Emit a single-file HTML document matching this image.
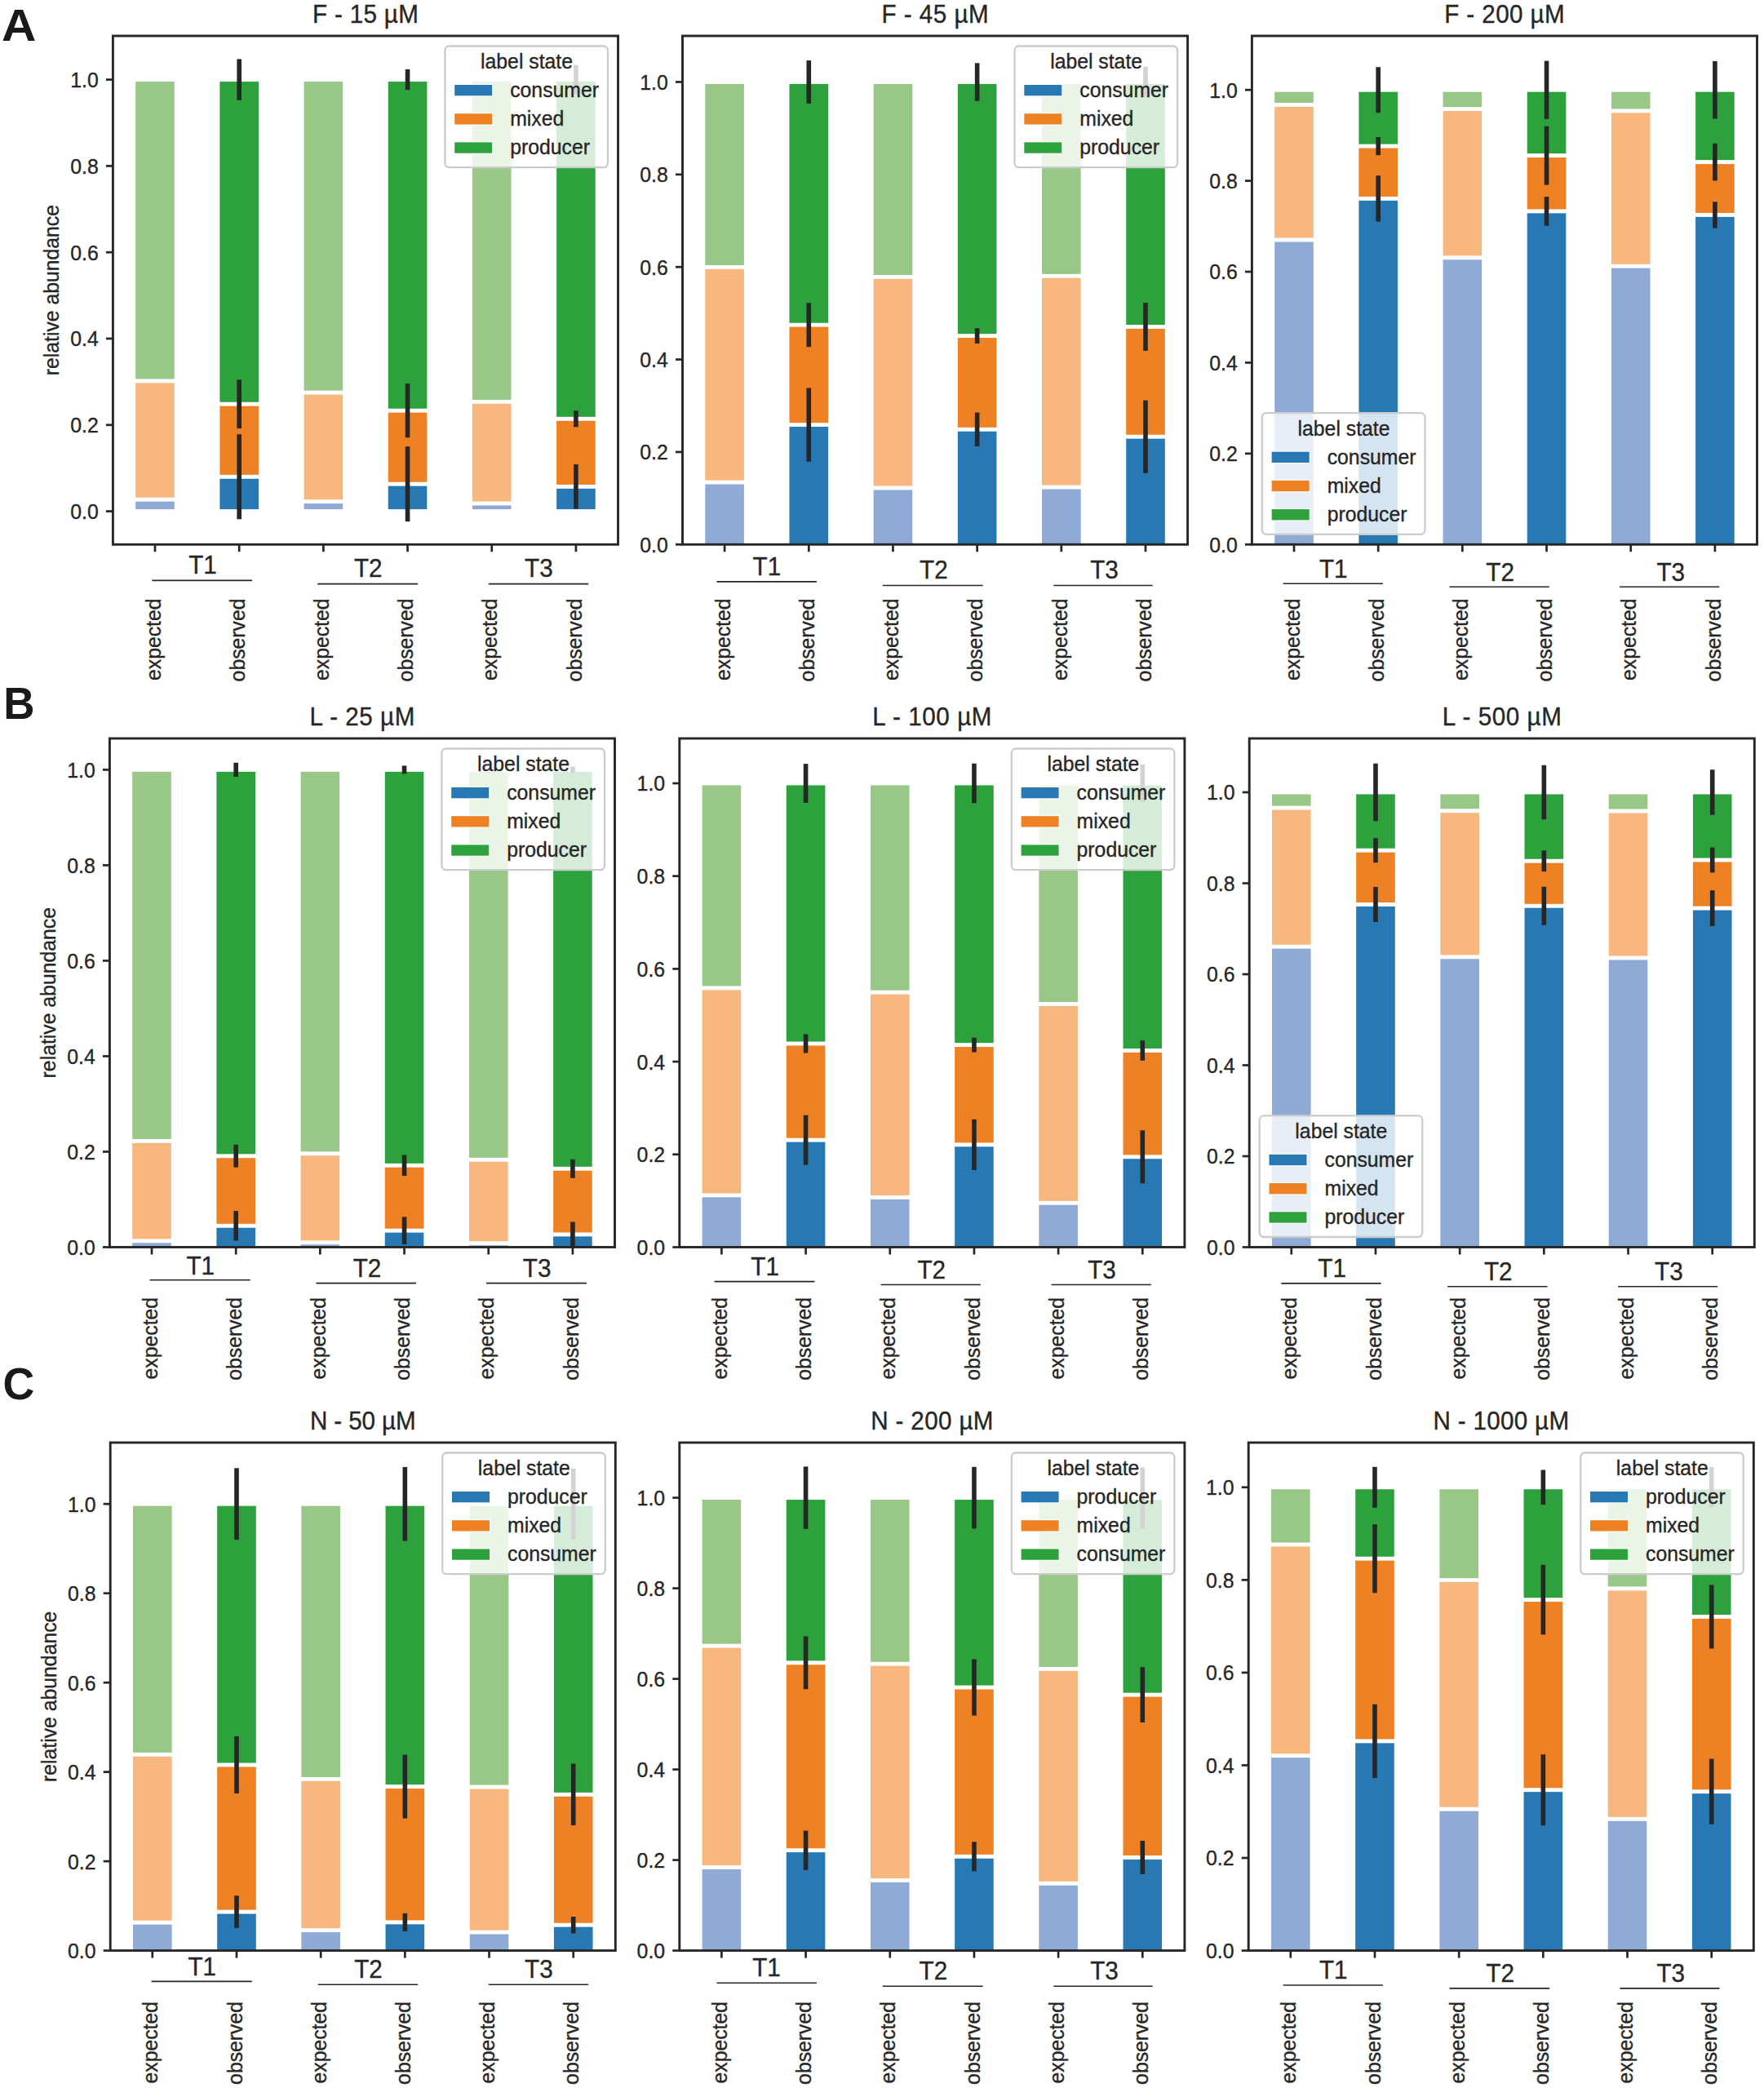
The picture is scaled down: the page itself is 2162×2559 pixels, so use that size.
<!DOCTYPE html>
<html lang="en">
<head>
<meta charset="utf-8">
<title>Relative abundance of label states</title>
<style>
html,body{margin:0;padding:0;background:#fff;}
svg{display:block;}
text{font-family:"Liberation Sans",Arial,Helvetica,sans-serif;fill:#262626;stroke:#262626;stroke-width:0.35px;}
.pl{font-weight:bold;fill:#1a1a1a;stroke:none;}
</style>
</head>
<body>
<svg width="2162" height="2559" viewBox="0 0 2162 2559">
<rect x="0" y="0" width="2162" height="2559" fill="#fff"/>
<g>
<rect x="166.19" y="614.65" width="47.6" height="9.5" fill="#8eaad5"/>
<rect x="166.19" y="469.35" width="47.6" height="140.4" fill="#f7b77f"/>
<rect x="166.19" y="100.05" width="47.6" height="364.4" fill="#98c787"/>
<rect x="269.38" y="586.75" width="47.6" height="37.4" fill="#2878b4"/>
<rect x="269.38" y="497.65" width="47.6" height="84.2" fill="#ee8124"/>
<rect x="269.38" y="100.05" width="47.6" height="392.7" fill="#2da23c"/>
<rect x="372.56" y="617.15" width="47.6" height="7" fill="#8eaad5"/>
<rect x="372.56" y="483.55" width="47.6" height="128.7" fill="#f7b77f"/>
<rect x="372.56" y="100.05" width="47.6" height="378.6" fill="#98c787"/>
<rect x="475.74" y="595.65" width="47.6" height="28.5" fill="#2878b4"/>
<rect x="475.74" y="505.65" width="47.6" height="85.1" fill="#ee8124"/>
<rect x="475.74" y="100.05" width="47.6" height="400.7" fill="#2da23c"/>
<rect x="578.93" y="619.45" width="47.6" height="4.7" fill="#8eaad5"/>
<rect x="578.93" y="494.85" width="47.6" height="119.7" fill="#f7b77f"/>
<rect x="578.93" y="100.05" width="47.6" height="389.9" fill="#98c787"/>
<rect x="682.11" y="598.85" width="47.6" height="25.3" fill="#2878b4"/>
<rect x="682.11" y="515.75" width="47.6" height="78.2" fill="#ee8124"/>
<rect x="682.11" y="100.05" width="47.6" height="410.8" fill="#2da23c"/>
<rect x="290.38" y="532.3" width="5.6" height="104" fill="#262626"/>
<rect x="290.38" y="465.3" width="5.6" height="59.8" fill="#262626"/>
<rect x="290.38" y="72.4" width="5.6" height="50.4" fill="#262626"/>
<rect x="496.74" y="547.2" width="5.6" height="92" fill="#262626"/>
<rect x="496.74" y="470.1" width="5.6" height="66.2" fill="#262626"/>
<rect x="496.74" y="85" width="5.6" height="25.2" fill="#262626"/>
<rect x="703.11" y="569.1" width="5.6" height="54.6" fill="#262626"/>
<rect x="703.11" y="503.3" width="5.6" height="20" fill="#262626"/>
<rect x="703.11" y="79.6" width="5.6" height="36" fill="#262626"/>
<rect x="545.4" y="56.5" width="199.6" height="148.6" rx="5.2" fill="#fff" fill-opacity="0.8" stroke="#cccccc" stroke-width="2.3"/>
<text text-anchor="middle" font-size="25.5" transform="translate(645.5 83.8) scale(0.972 1)">label state</text>
<rect x="557.2" y="104" width="46" height="13.3" fill="#2878b4" stroke="#fff" stroke-width="2.2" paint-order="stroke"/>
<text text-anchor="start" font-size="25.5" transform="translate(625.2 119.3) scale(0.972 1)">consumer</text>
<rect x="557.2" y="139.2" width="46" height="13.3" fill="#ee8124" stroke="#fff" stroke-width="2.2" paint-order="stroke"/>
<text text-anchor="start" font-size="25.5" transform="translate(625.2 154.35) scale(0.972 1)">mixed</text>
<rect x="557.2" y="174.4" width="46" height="13.3" fill="#2da23c" stroke="#fff" stroke-width="2.2" paint-order="stroke"/>
<text text-anchor="start" font-size="25.5" transform="translate(625.2 189.4) scale(0.972 1)">producer</text>
<rect x="138.4" y="44" width="619.1" height="623.3" fill="none" stroke="#262626" stroke-width="2.9"/>
<line x1="129.9" y1="626.6" x2="138.4" y2="626.6" stroke="#262626" stroke-width="2.7"/>
<text text-anchor="end" font-size="26.7" transform="translate(120.7 636.05) scale(0.93 1)">0.0</text>
<line x1="129.9" y1="520.8" x2="138.4" y2="520.8" stroke="#262626" stroke-width="2.7"/>
<text text-anchor="end" font-size="26.7" transform="translate(120.7 530.25) scale(0.93 1)">0.2</text>
<line x1="129.9" y1="415" x2="138.4" y2="415" stroke="#262626" stroke-width="2.7"/>
<text text-anchor="end" font-size="26.7" transform="translate(120.7 424.45) scale(0.93 1)">0.4</text>
<line x1="129.9" y1="309.2" x2="138.4" y2="309.2" stroke="#262626" stroke-width="2.7"/>
<text text-anchor="end" font-size="26.7" transform="translate(120.7 318.65) scale(0.93 1)">0.6</text>
<line x1="129.9" y1="203.4" x2="138.4" y2="203.4" stroke="#262626" stroke-width="2.7"/>
<text text-anchor="end" font-size="26.7" transform="translate(120.7 212.85) scale(0.93 1)">0.8</text>
<line x1="129.9" y1="97.6" x2="138.4" y2="97.6" stroke="#262626" stroke-width="2.7"/>
<text text-anchor="end" font-size="26.7" transform="translate(120.7 107.05) scale(0.93 1)">1.0</text>
<line x1="189.99" y1="667.3" x2="189.99" y2="676.3" stroke="#262626" stroke-width="2.7"/>
<text text-anchor="end" font-size="25.5" transform="translate(196.69 733.5) rotate(-90) scale(0.972 1)">expected</text>
<line x1="293.18" y1="667.3" x2="293.18" y2="676.3" stroke="#262626" stroke-width="2.7"/>
<text text-anchor="end" font-size="25.5" transform="translate(299.88 733.5) rotate(-90) scale(0.972 1)">observed</text>
<line x1="396.36" y1="667.3" x2="396.36" y2="676.3" stroke="#262626" stroke-width="2.7"/>
<text text-anchor="end" font-size="25.5" transform="translate(403.06 733.5) rotate(-90) scale(0.972 1)">expected</text>
<line x1="499.54" y1="667.3" x2="499.54" y2="676.3" stroke="#262626" stroke-width="2.7"/>
<text text-anchor="end" font-size="25.5" transform="translate(506.24 733.5) rotate(-90) scale(0.972 1)">observed</text>
<line x1="602.73" y1="667.3" x2="602.73" y2="676.3" stroke="#262626" stroke-width="2.7"/>
<text text-anchor="end" font-size="25.5" transform="translate(609.43 733.5) rotate(-90) scale(0.972 1)">expected</text>
<line x1="705.91" y1="667.3" x2="705.91" y2="676.3" stroke="#262626" stroke-width="2.7"/>
<text text-anchor="end" font-size="25.5" transform="translate(712.61 733.5) rotate(-90) scale(0.972 1)">observed</text>
<text text-anchor="start" font-size="31.4" transform="translate(231.2 703.4) scale(0.945 1)">T1</text>
<line x1="186.3" y1="711.4" x2="309.1" y2="711.4" stroke="#262626" stroke-width="1.6"/>
<text text-anchor="start" font-size="31.4" transform="translate(433.9 707.3) scale(0.945 1)">T2</text>
<line x1="389.2" y1="715.6" x2="512.2" y2="715.6" stroke="#262626" stroke-width="1.6"/>
<text text-anchor="start" font-size="31.4" transform="translate(643.1 707.3) scale(0.945 1)">T3</text>
<line x1="598.9" y1="715.6" x2="721.1" y2="715.6" stroke="#262626" stroke-width="1.6"/>
<text text-anchor="middle" font-size="30.8" transform="translate(447.95 27.6) scale(0.961 1)" textLength="134.96" lengthAdjust="spacing">F - 15 µM</text>
<text text-anchor="middle" font-size="25.5" transform="translate(71.8 355.65) rotate(-90) scale(0.972 1)">relative abundance</text>
</g>
<g>
<rect x="864.29" y="593.55" width="47.6" height="73.75" fill="#8eaad5"/>
<rect x="864.29" y="329.85" width="47.6" height="258.8" fill="#f7b77f"/>
<rect x="864.29" y="102.95" width="47.6" height="222" fill="#98c787"/>
<rect x="967.48" y="523.05" width="47.6" height="144.25" fill="#2878b4"/>
<rect x="967.48" y="400.65" width="47.6" height="117.5" fill="#ee8124"/>
<rect x="967.48" y="102.95" width="47.6" height="292.8" fill="#2da23c"/>
<rect x="1070.66" y="600.45" width="47.6" height="66.85" fill="#8eaad5"/>
<rect x="1070.66" y="341.85" width="47.6" height="253.7" fill="#f7b77f"/>
<rect x="1070.66" y="102.95" width="47.6" height="234" fill="#98c787"/>
<rect x="1173.84" y="528.75" width="47.6" height="138.55" fill="#2878b4"/>
<rect x="1173.84" y="414.05" width="47.6" height="109.8" fill="#ee8124"/>
<rect x="1173.84" y="102.95" width="47.6" height="306.2" fill="#2da23c"/>
<rect x="1277.03" y="599.55" width="47.6" height="67.75" fill="#8eaad5"/>
<rect x="1277.03" y="340.75" width="47.6" height="253.9" fill="#f7b77f"/>
<rect x="1277.03" y="102.95" width="47.6" height="232.9" fill="#98c787"/>
<rect x="1380.21" y="537.65" width="47.6" height="129.65" fill="#2878b4"/>
<rect x="1380.21" y="402.95" width="47.6" height="129.8" fill="#ee8124"/>
<rect x="1380.21" y="102.95" width="47.6" height="295.1" fill="#2da23c"/>
<rect x="988.48" y="475.5" width="5.6" height="90.2" fill="#262626"/>
<rect x="988.48" y="371.2" width="5.6" height="54" fill="#262626"/>
<rect x="988.48" y="74.1" width="5.6" height="52.8" fill="#262626"/>
<rect x="1194.84" y="505.6" width="5.6" height="41.4" fill="#262626"/>
<rect x="1194.84" y="402.2" width="5.6" height="18.8" fill="#262626"/>
<rect x="1194.84" y="77.3" width="5.6" height="46.4" fill="#262626"/>
<rect x="1401.21" y="490.6" width="5.6" height="89.2" fill="#262626"/>
<rect x="1401.21" y="371.1" width="5.6" height="58.8" fill="#262626"/>
<rect x="1401.21" y="81.6" width="5.6" height="37.8" fill="#262626"/>
<rect x="1243.5" y="56.5" width="199.6" height="148.6" rx="5.2" fill="#fff" fill-opacity="0.8" stroke="#cccccc" stroke-width="2.3"/>
<text text-anchor="middle" font-size="25.5" transform="translate(1343.6 83.8) scale(0.972 1)">label state</text>
<rect x="1255.3" y="104" width="46" height="13.3" fill="#2878b4" stroke="#fff" stroke-width="2.2" paint-order="stroke"/>
<text text-anchor="start" font-size="25.5" transform="translate(1323.3 119.3) scale(0.972 1)">consumer</text>
<rect x="1255.3" y="139.2" width="46" height="13.3" fill="#ee8124" stroke="#fff" stroke-width="2.2" paint-order="stroke"/>
<text text-anchor="start" font-size="25.5" transform="translate(1323.3 154.35) scale(0.972 1)">mixed</text>
<rect x="1255.3" y="174.4" width="46" height="13.3" fill="#2da23c" stroke="#fff" stroke-width="2.2" paint-order="stroke"/>
<text text-anchor="start" font-size="25.5" transform="translate(1323.3 189.4) scale(0.972 1)">producer</text>
<rect x="836.5" y="44" width="619.1" height="623.3" fill="none" stroke="#262626" stroke-width="2.9"/>
<line x1="828" y1="667.3" x2="836.5" y2="667.3" stroke="#262626" stroke-width="2.7"/>
<text text-anchor="end" font-size="26.7" transform="translate(818.8 676.75) scale(0.93 1)">0.0</text>
<line x1="828" y1="553.94" x2="836.5" y2="553.94" stroke="#262626" stroke-width="2.7"/>
<text text-anchor="end" font-size="26.7" transform="translate(818.8 563.39) scale(0.93 1)">0.2</text>
<line x1="828" y1="440.58" x2="836.5" y2="440.58" stroke="#262626" stroke-width="2.7"/>
<text text-anchor="end" font-size="26.7" transform="translate(818.8 450.03) scale(0.93 1)">0.4</text>
<line x1="828" y1="327.22" x2="836.5" y2="327.22" stroke="#262626" stroke-width="2.7"/>
<text text-anchor="end" font-size="26.7" transform="translate(818.8 336.67) scale(0.93 1)">0.6</text>
<line x1="828" y1="213.86" x2="836.5" y2="213.86" stroke="#262626" stroke-width="2.7"/>
<text text-anchor="end" font-size="26.7" transform="translate(818.8 223.31) scale(0.93 1)">0.8</text>
<line x1="828" y1="100.5" x2="836.5" y2="100.5" stroke="#262626" stroke-width="2.7"/>
<text text-anchor="end" font-size="26.7" transform="translate(818.8 109.95) scale(0.93 1)">1.0</text>
<line x1="888.09" y1="667.3" x2="888.09" y2="676.3" stroke="#262626" stroke-width="2.7"/>
<text text-anchor="end" font-size="25.5" transform="translate(894.79 733.5) rotate(-90) scale(0.972 1)">expected</text>
<line x1="991.27" y1="667.3" x2="991.27" y2="676.3" stroke="#262626" stroke-width="2.7"/>
<text text-anchor="end" font-size="25.5" transform="translate(997.98 733.5) rotate(-90) scale(0.972 1)">observed</text>
<line x1="1094.46" y1="667.3" x2="1094.46" y2="676.3" stroke="#262626" stroke-width="2.7"/>
<text text-anchor="end" font-size="25.5" transform="translate(1101.16 733.5) rotate(-90) scale(0.972 1)">expected</text>
<line x1="1197.64" y1="667.3" x2="1197.64" y2="676.3" stroke="#262626" stroke-width="2.7"/>
<text text-anchor="end" font-size="25.5" transform="translate(1204.34 733.5) rotate(-90) scale(0.972 1)">observed</text>
<line x1="1300.83" y1="667.3" x2="1300.83" y2="676.3" stroke="#262626" stroke-width="2.7"/>
<text text-anchor="end" font-size="25.5" transform="translate(1307.53 733.5) rotate(-90) scale(0.972 1)">expected</text>
<line x1="1404.01" y1="667.3" x2="1404.01" y2="676.3" stroke="#262626" stroke-width="2.7"/>
<text text-anchor="end" font-size="25.5" transform="translate(1410.71 733.5) rotate(-90) scale(0.972 1)">observed</text>
<text text-anchor="start" font-size="31.4" transform="translate(922.6 704.9) scale(0.945 1)">T1</text>
<line x1="878.4" y1="712.9" x2="1000.9" y2="712.9" stroke="#262626" stroke-width="1.6"/>
<text text-anchor="start" font-size="31.4" transform="translate(1127.1 708.8) scale(0.945 1)">T2</text>
<line x1="1081.8" y1="717.5" x2="1204.6" y2="717.5" stroke="#262626" stroke-width="1.6"/>
<text text-anchor="start" font-size="31.4" transform="translate(1336.2 708.8) scale(0.945 1)">T3</text>
<line x1="1291.3" y1="717.5" x2="1412.6" y2="717.5" stroke="#262626" stroke-width="1.6"/>
<text text-anchor="middle" font-size="30.8" transform="translate(1146.05 27.6) scale(0.961 1)" textLength="136.52" lengthAdjust="spacing">F - 45 µM</text>
</g>
<g>
<rect x="1562.19" y="296.45" width="47.6" height="370.85" fill="#8eaad5"/>
<rect x="1562.19" y="130.95" width="47.6" height="160.6" fill="#f7b77f"/>
<rect x="1562.19" y="112.65" width="47.6" height="13.4" fill="#98c787"/>
<rect x="1665.38" y="245.85" width="47.6" height="421.45" fill="#2878b4"/>
<rect x="1665.38" y="181.55" width="47.6" height="59.4" fill="#ee8124"/>
<rect x="1665.38" y="112.65" width="47.6" height="64" fill="#2da23c"/>
<rect x="1768.56" y="318.25" width="47.6" height="349.05" fill="#8eaad5"/>
<rect x="1768.56" y="136.05" width="47.6" height="177.3" fill="#f7b77f"/>
<rect x="1768.56" y="112.65" width="47.6" height="18.5" fill="#98c787"/>
<rect x="1871.74" y="261.35" width="47.6" height="405.95" fill="#2878b4"/>
<rect x="1871.74" y="193.05" width="47.6" height="63.4" fill="#ee8124"/>
<rect x="1871.74" y="112.65" width="47.6" height="75.5" fill="#2da23c"/>
<rect x="1974.93" y="328.65" width="47.6" height="338.65" fill="#8eaad5"/>
<rect x="1974.93" y="138.35" width="47.6" height="185.4" fill="#f7b77f"/>
<rect x="1974.93" y="112.65" width="47.6" height="20.8" fill="#98c787"/>
<rect x="2078.11" y="265.85" width="47.6" height="401.45" fill="#2878b4"/>
<rect x="2078.11" y="201.05" width="47.6" height="59.9" fill="#ee8124"/>
<rect x="2078.11" y="112.65" width="47.6" height="83.5" fill="#2da23c"/>
<rect x="1686.38" y="215.2" width="5.6" height="56.4" fill="#262626"/>
<rect x="1686.38" y="168" width="5.6" height="22.2" fill="#262626"/>
<rect x="1686.38" y="82.2" width="5.6" height="56" fill="#262626"/>
<rect x="1892.74" y="241.1" width="5.6" height="35.6" fill="#262626"/>
<rect x="1892.74" y="154.6" width="5.6" height="72" fill="#262626"/>
<rect x="1892.74" y="74.6" width="5.6" height="71.2" fill="#262626"/>
<rect x="2099.11" y="247.3" width="5.6" height="32.2" fill="#262626"/>
<rect x="2099.11" y="175.8" width="5.6" height="45.6" fill="#262626"/>
<rect x="2099.11" y="74.9" width="5.6" height="70.6" fill="#262626"/>
<rect x="1546.9" y="506.2" width="199.6" height="148.6" rx="5.2" fill="#fff" fill-opacity="0.8" stroke="#cccccc" stroke-width="2.3"/>
<text text-anchor="middle" font-size="25.5" transform="translate(1647 533.5) scale(0.972 1)">label state</text>
<rect x="1558.7" y="553.7" width="46" height="13.3" fill="#2878b4" stroke="#fff" stroke-width="2.2" paint-order="stroke"/>
<text text-anchor="start" font-size="25.5" transform="translate(1626.7 569) scale(0.972 1)">consumer</text>
<rect x="1558.7" y="588.9" width="46" height="13.3" fill="#ee8124" stroke="#fff" stroke-width="2.2" paint-order="stroke"/>
<text text-anchor="start" font-size="25.5" transform="translate(1626.7 604.05) scale(0.972 1)">mixed</text>
<rect x="1558.7" y="624.1" width="46" height="13.3" fill="#2da23c" stroke="#fff" stroke-width="2.2" paint-order="stroke"/>
<text text-anchor="start" font-size="25.5" transform="translate(1626.7 639.1) scale(0.972 1)">producer</text>
<rect x="1534.4" y="44" width="619.1" height="623.3" fill="none" stroke="#262626" stroke-width="2.9"/>
<line x1="1525.9" y1="667.3" x2="1534.4" y2="667.3" stroke="#262626" stroke-width="2.7"/>
<text text-anchor="end" font-size="26.7" transform="translate(1516.7 676.75) scale(0.93 1)">0.0</text>
<line x1="1525.9" y1="555.88" x2="1534.4" y2="555.88" stroke="#262626" stroke-width="2.7"/>
<text text-anchor="end" font-size="26.7" transform="translate(1516.7 565.33) scale(0.93 1)">0.2</text>
<line x1="1525.9" y1="444.46" x2="1534.4" y2="444.46" stroke="#262626" stroke-width="2.7"/>
<text text-anchor="end" font-size="26.7" transform="translate(1516.7 453.91) scale(0.93 1)">0.4</text>
<line x1="1525.9" y1="333.04" x2="1534.4" y2="333.04" stroke="#262626" stroke-width="2.7"/>
<text text-anchor="end" font-size="26.7" transform="translate(1516.7 342.49) scale(0.93 1)">0.6</text>
<line x1="1525.9" y1="221.62" x2="1534.4" y2="221.62" stroke="#262626" stroke-width="2.7"/>
<text text-anchor="end" font-size="26.7" transform="translate(1516.7 231.07) scale(0.93 1)">0.8</text>
<line x1="1525.9" y1="110.2" x2="1534.4" y2="110.2" stroke="#262626" stroke-width="2.7"/>
<text text-anchor="end" font-size="26.7" transform="translate(1516.7 119.65) scale(0.93 1)">1.0</text>
<line x1="1585.99" y1="667.3" x2="1585.99" y2="676.3" stroke="#262626" stroke-width="2.7"/>
<text text-anchor="end" font-size="25.5" transform="translate(1592.69 733.5) rotate(-90) scale(0.972 1)">expected</text>
<line x1="1689.18" y1="667.3" x2="1689.18" y2="676.3" stroke="#262626" stroke-width="2.7"/>
<text text-anchor="end" font-size="25.5" transform="translate(1695.88 733.5) rotate(-90) scale(0.972 1)">observed</text>
<line x1="1792.36" y1="667.3" x2="1792.36" y2="676.3" stroke="#262626" stroke-width="2.7"/>
<text text-anchor="end" font-size="25.5" transform="translate(1799.06 733.5) rotate(-90) scale(0.972 1)">expected</text>
<line x1="1895.54" y1="667.3" x2="1895.54" y2="676.3" stroke="#262626" stroke-width="2.7"/>
<text text-anchor="end" font-size="25.5" transform="translate(1902.24 733.5) rotate(-90) scale(0.972 1)">observed</text>
<line x1="1998.73" y1="667.3" x2="1998.73" y2="676.3" stroke="#262626" stroke-width="2.7"/>
<text text-anchor="end" font-size="25.5" transform="translate(2005.43 733.5) rotate(-90) scale(0.972 1)">expected</text>
<line x1="2101.91" y1="667.3" x2="2101.91" y2="676.3" stroke="#262626" stroke-width="2.7"/>
<text text-anchor="end" font-size="25.5" transform="translate(2108.61 733.5) rotate(-90) scale(0.972 1)">observed</text>
<text text-anchor="start" font-size="31.4" transform="translate(1616.9 707.7) scale(0.945 1)">T1</text>
<line x1="1572.6" y1="715.2" x2="1694.9" y2="715.2" stroke="#262626" stroke-width="1.6"/>
<text text-anchor="start" font-size="31.4" transform="translate(1821.3 711.6) scale(0.945 1)">T2</text>
<line x1="1776.5" y1="719.2" x2="1898.8" y2="719.2" stroke="#262626" stroke-width="1.6"/>
<text text-anchor="start" font-size="31.4" transform="translate(2030.4 711.6) scale(0.945 1)">T3</text>
<line x1="1985" y1="719.2" x2="2107.3" y2="719.2" stroke="#262626" stroke-width="1.6"/>
<text text-anchor="middle" font-size="30.8" transform="translate(1843.95 27.6) scale(0.961 1)" textLength="153.59" lengthAdjust="spacing">F - 200 µM</text>
</g>
<g>
<rect x="162.19" y="1523.25" width="47.6" height="5.25" fill="#8eaad5"/>
<rect x="162.19" y="1400.85" width="47.6" height="117.5" fill="#f7b77f"/>
<rect x="162.19" y="945.85" width="47.6" height="450.1" fill="#98c787"/>
<rect x="265.38" y="1504.75" width="47.6" height="23.75" fill="#2878b4"/>
<rect x="265.38" y="1419.25" width="47.6" height="80.6" fill="#ee8124"/>
<rect x="265.38" y="945.85" width="47.6" height="468.5" fill="#2da23c"/>
<rect x="368.56" y="1525.25" width="47.6" height="3.25" fill="#8eaad5"/>
<rect x="368.56" y="1416.25" width="47.6" height="104.1" fill="#f7b77f"/>
<rect x="368.56" y="945.85" width="47.6" height="465.5" fill="#98c787"/>
<rect x="471.74" y="1510.65" width="47.6" height="17.85" fill="#2878b4"/>
<rect x="471.74" y="1430.75" width="47.6" height="75" fill="#ee8124"/>
<rect x="471.74" y="945.85" width="47.6" height="480" fill="#2da23c"/>
<rect x="574.93" y="1526.15" width="47.6" height="2.35" fill="#8eaad5"/>
<rect x="574.93" y="1423.75" width="47.6" height="97.5" fill="#f7b77f"/>
<rect x="574.93" y="945.85" width="47.6" height="473" fill="#98c787"/>
<rect x="678.11" y="1515.35" width="47.6" height="13.15" fill="#2878b4"/>
<rect x="678.11" y="1434.75" width="47.6" height="75.7" fill="#ee8124"/>
<rect x="678.11" y="945.85" width="47.6" height="484" fill="#2da23c"/>
<rect x="286.38" y="1484.1" width="5.6" height="36.4" fill="#262626"/>
<rect x="286.38" y="1402.9" width="5.6" height="27.8" fill="#262626"/>
<rect x="286.38" y="934.8" width="5.6" height="17.2" fill="#262626"/>
<rect x="492.74" y="1491.4" width="5.6" height="33.6" fill="#262626"/>
<rect x="492.74" y="1415.5" width="5.6" height="25.6" fill="#262626"/>
<rect x="492.74" y="938.4" width="5.6" height="10" fill="#262626"/>
<rect x="699.11" y="1497.5" width="5.6" height="30.8" fill="#262626"/>
<rect x="699.11" y="1420.8" width="5.6" height="23" fill="#262626"/>
<rect x="699.11" y="939.4" width="5.6" height="8" fill="#262626"/>
<rect x="541.4" y="917.5" width="199.6" height="148.6" rx="5.2" fill="#fff" fill-opacity="0.8" stroke="#cccccc" stroke-width="2.3"/>
<text text-anchor="middle" font-size="25.5" transform="translate(641.5 944.8) scale(0.972 1)">label state</text>
<rect x="553.2" y="965" width="46" height="13.3" fill="#2878b4" stroke="#fff" stroke-width="2.2" paint-order="stroke"/>
<text text-anchor="start" font-size="25.5" transform="translate(621.2 980.3) scale(0.972 1)">consumer</text>
<rect x="553.2" y="1000.2" width="46" height="13.3" fill="#ee8124" stroke="#fff" stroke-width="2.2" paint-order="stroke"/>
<text text-anchor="start" font-size="25.5" transform="translate(621.2 1015.35) scale(0.972 1)">mixed</text>
<rect x="553.2" y="1035.4" width="46" height="13.3" fill="#2da23c" stroke="#fff" stroke-width="2.2" paint-order="stroke"/>
<text text-anchor="start" font-size="25.5" transform="translate(621.2 1050.4) scale(0.972 1)">producer</text>
<rect x="134.4" y="905" width="619.1" height="623.5" fill="none" stroke="#262626" stroke-width="2.9"/>
<line x1="125.9" y1="1528.5" x2="134.4" y2="1528.5" stroke="#262626" stroke-width="2.7"/>
<text text-anchor="end" font-size="26.7" transform="translate(116.7 1537.95) scale(0.93 1)">0.0</text>
<line x1="125.9" y1="1411.48" x2="134.4" y2="1411.48" stroke="#262626" stroke-width="2.7"/>
<text text-anchor="end" font-size="26.7" transform="translate(116.7 1420.93) scale(0.93 1)">0.2</text>
<line x1="125.9" y1="1294.46" x2="134.4" y2="1294.46" stroke="#262626" stroke-width="2.7"/>
<text text-anchor="end" font-size="26.7" transform="translate(116.7 1303.91) scale(0.93 1)">0.4</text>
<line x1="125.9" y1="1177.44" x2="134.4" y2="1177.44" stroke="#262626" stroke-width="2.7"/>
<text text-anchor="end" font-size="26.7" transform="translate(116.7 1186.89) scale(0.93 1)">0.6</text>
<line x1="125.9" y1="1060.42" x2="134.4" y2="1060.42" stroke="#262626" stroke-width="2.7"/>
<text text-anchor="end" font-size="26.7" transform="translate(116.7 1069.87) scale(0.93 1)">0.8</text>
<line x1="125.9" y1="943.4" x2="134.4" y2="943.4" stroke="#262626" stroke-width="2.7"/>
<text text-anchor="end" font-size="26.7" transform="translate(116.7 952.85) scale(0.93 1)">1.0</text>
<line x1="185.99" y1="1528.5" x2="185.99" y2="1537.5" stroke="#262626" stroke-width="2.7"/>
<text text-anchor="end" font-size="25.5" transform="translate(192.69 1589.9) rotate(-90) scale(0.972 1)">expected</text>
<line x1="289.18" y1="1528.5" x2="289.18" y2="1537.5" stroke="#262626" stroke-width="2.7"/>
<text text-anchor="end" font-size="25.5" transform="translate(295.88 1589.9) rotate(-90) scale(0.972 1)">observed</text>
<line x1="392.36" y1="1528.5" x2="392.36" y2="1537.5" stroke="#262626" stroke-width="2.7"/>
<text text-anchor="end" font-size="25.5" transform="translate(399.06 1589.9) rotate(-90) scale(0.972 1)">expected</text>
<line x1="495.54" y1="1528.5" x2="495.54" y2="1537.5" stroke="#262626" stroke-width="2.7"/>
<text text-anchor="end" font-size="25.5" transform="translate(502.24 1589.9) rotate(-90) scale(0.972 1)">observed</text>
<line x1="598.73" y1="1528.5" x2="598.73" y2="1537.5" stroke="#262626" stroke-width="2.7"/>
<text text-anchor="end" font-size="25.5" transform="translate(605.43 1589.9) rotate(-90) scale(0.972 1)">expected</text>
<line x1="701.91" y1="1528.5" x2="701.91" y2="1537.5" stroke="#262626" stroke-width="2.7"/>
<text text-anchor="end" font-size="25.5" transform="translate(708.61 1589.9) rotate(-90) scale(0.972 1)">observed</text>
<text text-anchor="start" font-size="31.4" transform="translate(228.5 1561.6) scale(0.945 1)">T1</text>
<line x1="183.5" y1="1568.7" x2="306.7" y2="1568.7" stroke="#262626" stroke-width="1.6"/>
<text text-anchor="start" font-size="31.4" transform="translate(432.7 1564.9) scale(0.945 1)">T2</text>
<line x1="387.4" y1="1572.6" x2="509.9" y2="1572.6" stroke="#262626" stroke-width="1.6"/>
<text text-anchor="start" font-size="31.4" transform="translate(640.8 1564.9) scale(0.945 1)">T3</text>
<line x1="596.1" y1="1572.6" x2="718.9" y2="1572.6" stroke="#262626" stroke-width="1.6"/>
<text text-anchor="middle" font-size="30.8" transform="translate(443.95 888.6) scale(0.961 1)" textLength="133.92" lengthAdjust="spacing">L - 25 µM</text>
<text text-anchor="middle" font-size="25.5" transform="translate(67.8 1216.75) rotate(-90) scale(0.972 1)">relative abundance</text>
</g>
<g>
<rect x="860.59" y="1467.35" width="47.6" height="61.15" fill="#8eaad5"/>
<rect x="860.59" y="1213.35" width="47.6" height="249.1" fill="#f7b77f"/>
<rect x="860.59" y="962.45" width="47.6" height="246" fill="#98c787"/>
<rect x="963.77" y="1399.65" width="47.6" height="128.85" fill="#2878b4"/>
<rect x="963.77" y="1281.45" width="47.6" height="113.3" fill="#ee8124"/>
<rect x="963.77" y="962.45" width="47.6" height="314.1" fill="#2da23c"/>
<rect x="1066.96" y="1469.85" width="47.6" height="58.65" fill="#8eaad5"/>
<rect x="1066.96" y="1218.55" width="47.6" height="246.4" fill="#f7b77f"/>
<rect x="1066.96" y="962.45" width="47.6" height="251.2" fill="#98c787"/>
<rect x="1170.14" y="1405.35" width="47.6" height="123.15" fill="#2878b4"/>
<rect x="1170.14" y="1283.05" width="47.6" height="117.4" fill="#ee8124"/>
<rect x="1170.14" y="962.45" width="47.6" height="315.7" fill="#2da23c"/>
<rect x="1273.33" y="1476.75" width="47.6" height="51.75" fill="#8eaad5"/>
<rect x="1273.33" y="1232.95" width="47.6" height="238.9" fill="#f7b77f"/>
<rect x="1273.33" y="962.45" width="47.6" height="265.6" fill="#98c787"/>
<rect x="1376.51" y="1420.25" width="47.6" height="108.25" fill="#2878b4"/>
<rect x="1376.51" y="1289.95" width="47.6" height="125.4" fill="#ee8124"/>
<rect x="1376.51" y="962.45" width="47.6" height="322.6" fill="#2da23c"/>
<rect x="984.77" y="1366.7" width="5.6" height="61" fill="#262626"/>
<rect x="984.77" y="1267.5" width="5.6" height="23" fill="#262626"/>
<rect x="984.77" y="936.1" width="5.6" height="47.8" fill="#262626"/>
<rect x="1191.14" y="1371.8" width="5.6" height="62.2" fill="#262626"/>
<rect x="1191.14" y="1271.6" width="5.6" height="18" fill="#262626"/>
<rect x="1191.14" y="935.7" width="5.6" height="48.6" fill="#262626"/>
<rect x="1397.51" y="1385.3" width="5.6" height="65" fill="#262626"/>
<rect x="1397.51" y="1275.2" width="5.6" height="24.6" fill="#262626"/>
<rect x="1397.51" y="937" width="5.6" height="46" fill="#262626"/>
<rect x="1239.8" y="917.5" width="199.6" height="148.6" rx="5.2" fill="#fff" fill-opacity="0.8" stroke="#cccccc" stroke-width="2.3"/>
<text text-anchor="middle" font-size="25.5" transform="translate(1339.9 944.8) scale(0.972 1)">label state</text>
<rect x="1251.6" y="965" width="46" height="13.3" fill="#2878b4" stroke="#fff" stroke-width="2.2" paint-order="stroke"/>
<text text-anchor="start" font-size="25.5" transform="translate(1319.6 980.3) scale(0.972 1)">consumer</text>
<rect x="1251.6" y="1000.2" width="46" height="13.3" fill="#ee8124" stroke="#fff" stroke-width="2.2" paint-order="stroke"/>
<text text-anchor="start" font-size="25.5" transform="translate(1319.6 1015.35) scale(0.972 1)">mixed</text>
<rect x="1251.6" y="1035.4" width="46" height="13.3" fill="#2da23c" stroke="#fff" stroke-width="2.2" paint-order="stroke"/>
<text text-anchor="start" font-size="25.5" transform="translate(1319.6 1050.4) scale(0.972 1)">producer</text>
<rect x="832.8" y="905" width="619.1" height="623.5" fill="none" stroke="#262626" stroke-width="2.9"/>
<line x1="824.3" y1="1528.5" x2="832.8" y2="1528.5" stroke="#262626" stroke-width="2.7"/>
<text text-anchor="end" font-size="26.7" transform="translate(815.1 1537.95) scale(0.93 1)">0.0</text>
<line x1="824.3" y1="1414.8" x2="832.8" y2="1414.8" stroke="#262626" stroke-width="2.7"/>
<text text-anchor="end" font-size="26.7" transform="translate(815.1 1424.25) scale(0.93 1)">0.2</text>
<line x1="824.3" y1="1301.1" x2="832.8" y2="1301.1" stroke="#262626" stroke-width="2.7"/>
<text text-anchor="end" font-size="26.7" transform="translate(815.1 1310.55) scale(0.93 1)">0.4</text>
<line x1="824.3" y1="1187.4" x2="832.8" y2="1187.4" stroke="#262626" stroke-width="2.7"/>
<text text-anchor="end" font-size="26.7" transform="translate(815.1 1196.85) scale(0.93 1)">0.6</text>
<line x1="824.3" y1="1073.7" x2="832.8" y2="1073.7" stroke="#262626" stroke-width="2.7"/>
<text text-anchor="end" font-size="26.7" transform="translate(815.1 1083.15) scale(0.93 1)">0.8</text>
<line x1="824.3" y1="960" x2="832.8" y2="960" stroke="#262626" stroke-width="2.7"/>
<text text-anchor="end" font-size="26.7" transform="translate(815.1 969.45) scale(0.93 1)">1.0</text>
<line x1="884.39" y1="1528.5" x2="884.39" y2="1537.5" stroke="#262626" stroke-width="2.7"/>
<text text-anchor="end" font-size="25.5" transform="translate(891.09 1589.9) rotate(-90) scale(0.972 1)">expected</text>
<line x1="987.57" y1="1528.5" x2="987.57" y2="1537.5" stroke="#262626" stroke-width="2.7"/>
<text text-anchor="end" font-size="25.5" transform="translate(994.27 1589.9) rotate(-90) scale(0.972 1)">observed</text>
<line x1="1090.76" y1="1528.5" x2="1090.76" y2="1537.5" stroke="#262626" stroke-width="2.7"/>
<text text-anchor="end" font-size="25.5" transform="translate(1097.46 1589.9) rotate(-90) scale(0.972 1)">expected</text>
<line x1="1193.94" y1="1528.5" x2="1193.94" y2="1537.5" stroke="#262626" stroke-width="2.7"/>
<text text-anchor="end" font-size="25.5" transform="translate(1200.64 1589.9) rotate(-90) scale(0.972 1)">observed</text>
<line x1="1297.12" y1="1528.5" x2="1297.12" y2="1537.5" stroke="#262626" stroke-width="2.7"/>
<text text-anchor="end" font-size="25.5" transform="translate(1303.83 1589.9) rotate(-90) scale(0.972 1)">expected</text>
<line x1="1400.31" y1="1528.5" x2="1400.31" y2="1537.5" stroke="#262626" stroke-width="2.7"/>
<text text-anchor="end" font-size="25.5" transform="translate(1407.01 1589.9) rotate(-90) scale(0.972 1)">observed</text>
<text text-anchor="start" font-size="31.4" transform="translate(920.3 1563.1) scale(0.945 1)">T1</text>
<line x1="875.6" y1="1570.6" x2="998.4" y2="1570.6" stroke="#262626" stroke-width="1.6"/>
<text text-anchor="start" font-size="31.4" transform="translate(1124.4 1566.5) scale(0.945 1)">T2</text>
<line x1="1079.5" y1="1574.5" x2="1201.8" y2="1574.5" stroke="#262626" stroke-width="1.6"/>
<text text-anchor="start" font-size="31.4" transform="translate(1333.2 1566.5) scale(0.945 1)">T3</text>
<line x1="1288.5" y1="1574.5" x2="1410.8" y2="1574.5" stroke="#262626" stroke-width="1.6"/>
<text text-anchor="middle" font-size="30.8" transform="translate(1142.35 888.6) scale(0.961 1)" textLength="152.13" lengthAdjust="spacing">L - 100 µM</text>
</g>
<g>
<rect x="1558.99" y="1162.65" width="47.6" height="365.85" fill="#8eaad5"/>
<rect x="1558.99" y="992.55" width="47.6" height="165.2" fill="#f7b77f"/>
<rect x="1558.99" y="973.45" width="47.6" height="14.2" fill="#98c787"/>
<rect x="1662.18" y="1110.95" width="47.6" height="417.55" fill="#2878b4"/>
<rect x="1662.18" y="1044.65" width="47.6" height="61.4" fill="#ee8124"/>
<rect x="1662.18" y="973.45" width="47.6" height="66.3" fill="#2da23c"/>
<rect x="1765.36" y="1175.25" width="47.6" height="353.25" fill="#8eaad5"/>
<rect x="1765.36" y="996.15" width="47.6" height="174.2" fill="#f7b77f"/>
<rect x="1765.36" y="973.45" width="47.6" height="17.8" fill="#98c787"/>
<rect x="1868.54" y="1112.75" width="47.6" height="415.75" fill="#2878b4"/>
<rect x="1868.54" y="1057.65" width="47.6" height="50.2" fill="#ee8124"/>
<rect x="1868.54" y="973.45" width="47.6" height="79.3" fill="#2da23c"/>
<rect x="1971.73" y="1176.45" width="47.6" height="352.05" fill="#8eaad5"/>
<rect x="1971.73" y="996.45" width="47.6" height="175.1" fill="#f7b77f"/>
<rect x="1971.73" y="973.45" width="47.6" height="18.1" fill="#98c787"/>
<rect x="2074.91" y="1115.55" width="47.6" height="412.95" fill="#2878b4"/>
<rect x="2074.91" y="1056.45" width="47.6" height="54.2" fill="#ee8124"/>
<rect x="2074.91" y="973.45" width="47.6" height="78.1" fill="#2da23c"/>
<rect x="1683.18" y="1087" width="5.6" height="43" fill="#262626"/>
<rect x="1683.18" y="1027.2" width="5.6" height="30" fill="#262626"/>
<rect x="1683.18" y="935.7" width="5.6" height="70.6" fill="#262626"/>
<rect x="1889.54" y="1086.8" width="5.6" height="47" fill="#262626"/>
<rect x="1889.54" y="1042.3" width="5.6" height="25.8" fill="#262626"/>
<rect x="1889.54" y="937.8" width="5.6" height="66.4" fill="#262626"/>
<rect x="2095.91" y="1091.2" width="5.6" height="43.8" fill="#262626"/>
<rect x="2095.91" y="1038.6" width="5.6" height="30.8" fill="#262626"/>
<rect x="2095.91" y="943.3" width="5.6" height="55.4" fill="#262626"/>
<rect x="1543.7" y="1367.4" width="199.6" height="148.6" rx="5.2" fill="#fff" fill-opacity="0.8" stroke="#cccccc" stroke-width="2.3"/>
<text text-anchor="middle" font-size="25.5" transform="translate(1643.8 1394.7) scale(0.972 1)">label state</text>
<rect x="1555.5" y="1414.9" width="46" height="13.3" fill="#2878b4" stroke="#fff" stroke-width="2.2" paint-order="stroke"/>
<text text-anchor="start" font-size="25.5" transform="translate(1623.5 1430.2) scale(0.972 1)">consumer</text>
<rect x="1555.5" y="1450.1" width="46" height="13.3" fill="#ee8124" stroke="#fff" stroke-width="2.2" paint-order="stroke"/>
<text text-anchor="start" font-size="25.5" transform="translate(1623.5 1465.25) scale(0.972 1)">mixed</text>
<rect x="1555.5" y="1485.3" width="46" height="13.3" fill="#2da23c" stroke="#fff" stroke-width="2.2" paint-order="stroke"/>
<text text-anchor="start" font-size="25.5" transform="translate(1623.5 1500.3) scale(0.972 1)">producer</text>
<rect x="1531.2" y="905" width="619.1" height="623.5" fill="none" stroke="#262626" stroke-width="2.9"/>
<line x1="1522.7" y1="1528.5" x2="1531.2" y2="1528.5" stroke="#262626" stroke-width="2.7"/>
<text text-anchor="end" font-size="26.7" transform="translate(1513.5 1537.95) scale(0.93 1)">0.0</text>
<line x1="1522.7" y1="1417" x2="1531.2" y2="1417" stroke="#262626" stroke-width="2.7"/>
<text text-anchor="end" font-size="26.7" transform="translate(1513.5 1426.45) scale(0.93 1)">0.2</text>
<line x1="1522.7" y1="1305.5" x2="1531.2" y2="1305.5" stroke="#262626" stroke-width="2.7"/>
<text text-anchor="end" font-size="26.7" transform="translate(1513.5 1314.95) scale(0.93 1)">0.4</text>
<line x1="1522.7" y1="1194" x2="1531.2" y2="1194" stroke="#262626" stroke-width="2.7"/>
<text text-anchor="end" font-size="26.7" transform="translate(1513.5 1203.45) scale(0.93 1)">0.6</text>
<line x1="1522.7" y1="1082.5" x2="1531.2" y2="1082.5" stroke="#262626" stroke-width="2.7"/>
<text text-anchor="end" font-size="26.7" transform="translate(1513.5 1091.95) scale(0.93 1)">0.8</text>
<line x1="1522.7" y1="971" x2="1531.2" y2="971" stroke="#262626" stroke-width="2.7"/>
<text text-anchor="end" font-size="26.7" transform="translate(1513.5 980.45) scale(0.93 1)">1.0</text>
<line x1="1582.79" y1="1528.5" x2="1582.79" y2="1537.5" stroke="#262626" stroke-width="2.7"/>
<text text-anchor="end" font-size="25.5" transform="translate(1589.49 1589.9) rotate(-90) scale(0.972 1)">expected</text>
<line x1="1685.98" y1="1528.5" x2="1685.98" y2="1537.5" stroke="#262626" stroke-width="2.7"/>
<text text-anchor="end" font-size="25.5" transform="translate(1692.68 1589.9) rotate(-90) scale(0.972 1)">observed</text>
<line x1="1789.16" y1="1528.5" x2="1789.16" y2="1537.5" stroke="#262626" stroke-width="2.7"/>
<text text-anchor="end" font-size="25.5" transform="translate(1795.86 1589.9) rotate(-90) scale(0.972 1)">expected</text>
<line x1="1892.34" y1="1528.5" x2="1892.34" y2="1537.5" stroke="#262626" stroke-width="2.7"/>
<text text-anchor="end" font-size="25.5" transform="translate(1899.04 1589.9) rotate(-90) scale(0.972 1)">observed</text>
<line x1="1995.53" y1="1528.5" x2="1995.53" y2="1537.5" stroke="#262626" stroke-width="2.7"/>
<text text-anchor="end" font-size="25.5" transform="translate(2002.23 1589.9) rotate(-90) scale(0.972 1)">expected</text>
<line x1="2098.71" y1="1528.5" x2="2098.71" y2="1537.5" stroke="#262626" stroke-width="2.7"/>
<text text-anchor="end" font-size="25.5" transform="translate(2105.41 1589.9) rotate(-90) scale(0.972 1)">observed</text>
<text text-anchor="start" font-size="31.4" transform="translate(1615.3 1564.9) scale(0.945 1)">T1</text>
<line x1="1570.3" y1="1572.9" x2="1692.6" y2="1572.9" stroke="#262626" stroke-width="1.6"/>
<text text-anchor="start" font-size="31.4" transform="translate(1819 1568.8) scale(0.945 1)">T2</text>
<line x1="1774.1" y1="1576.8" x2="1896.5" y2="1576.8" stroke="#262626" stroke-width="1.6"/>
<text text-anchor="start" font-size="31.4" transform="translate(2028.1 1568.8) scale(0.945 1)">T3</text>
<line x1="1983.1" y1="1576.8" x2="2105.2" y2="1576.8" stroke="#262626" stroke-width="1.6"/>
<text text-anchor="middle" font-size="30.8" transform="translate(1840.75 888.6) scale(0.961 1)" textLength="152.13" lengthAdjust="spacing">L - 500 µM</text>
</g>
<g>
<rect x="162.99" y="2358.65" width="47.6" height="31.95" fill="#8eaad5"/>
<rect x="162.99" y="2152.75" width="47.6" height="201" fill="#f7b77f"/>
<rect x="162.99" y="1845.65" width="47.6" height="302.2" fill="#98c787"/>
<rect x="266.18" y="2345.55" width="47.6" height="45.05" fill="#2878b4"/>
<rect x="266.18" y="2165.45" width="47.6" height="175.2" fill="#ee8124"/>
<rect x="266.18" y="1845.65" width="47.6" height="314.9" fill="#2da23c"/>
<rect x="369.36" y="2368.05" width="47.6" height="22.55" fill="#8eaad5"/>
<rect x="369.36" y="2182.85" width="47.6" height="180.3" fill="#f7b77f"/>
<rect x="369.36" y="1845.65" width="47.6" height="332.3" fill="#98c787"/>
<rect x="472.54" y="2358.35" width="47.6" height="32.25" fill="#2878b4"/>
<rect x="472.54" y="2192.05" width="47.6" height="161.4" fill="#ee8124"/>
<rect x="472.54" y="1845.65" width="47.6" height="341.5" fill="#2da23c"/>
<rect x="575.73" y="2370.55" width="47.6" height="20.05" fill="#8eaad5"/>
<rect x="575.73" y="2192.55" width="47.6" height="173.1" fill="#f7b77f"/>
<rect x="575.73" y="1845.65" width="47.6" height="342" fill="#98c787"/>
<rect x="678.91" y="2361.65" width="47.6" height="28.95" fill="#2878b4"/>
<rect x="678.91" y="2201.75" width="47.6" height="155" fill="#ee8124"/>
<rect x="678.91" y="1845.65" width="47.6" height="351.2" fill="#2da23c"/>
<rect x="287.18" y="2323.3" width="5.6" height="39.6" fill="#262626"/>
<rect x="287.18" y="2128" width="5.6" height="70" fill="#262626"/>
<rect x="287.18" y="1799.3" width="5.6" height="87.8" fill="#262626"/>
<rect x="493.54" y="2344.9" width="5.6" height="22" fill="#262626"/>
<rect x="493.54" y="2150.6" width="5.6" height="78" fill="#262626"/>
<rect x="493.54" y="1797.9" width="5.6" height="90.6" fill="#262626"/>
<rect x="699.91" y="2349" width="5.6" height="20.4" fill="#262626"/>
<rect x="699.91" y="2161.5" width="5.6" height="75.6" fill="#262626"/>
<rect x="699.91" y="1799.8" width="5.6" height="86.8" fill="#262626"/>
<rect x="542.2" y="1780.5" width="199.6" height="148.6" rx="5.2" fill="#fff" fill-opacity="0.8" stroke="#cccccc" stroke-width="2.3"/>
<text text-anchor="middle" font-size="25.5" transform="translate(642.3 1807.8) scale(0.972 1)">label state</text>
<rect x="554" y="1828" width="46" height="13.3" fill="#2878b4" stroke="#fff" stroke-width="2.2" paint-order="stroke"/>
<text text-anchor="start" font-size="25.5" transform="translate(622 1843.3) scale(0.972 1)">producer</text>
<rect x="554" y="1863.2" width="46" height="13.3" fill="#ee8124" stroke="#fff" stroke-width="2.2" paint-order="stroke"/>
<text text-anchor="start" font-size="25.5" transform="translate(622 1878.35) scale(0.972 1)">mixed</text>
<rect x="554" y="1898.4" width="46" height="13.3" fill="#2da23c" stroke="#fff" stroke-width="2.2" paint-order="stroke"/>
<text text-anchor="start" font-size="25.5" transform="translate(622 1913.4) scale(0.972 1)">consumer</text>
<rect x="135.2" y="1768" width="619.1" height="622.6" fill="none" stroke="#262626" stroke-width="2.9"/>
<line x1="126.7" y1="2390.6" x2="135.2" y2="2390.6" stroke="#262626" stroke-width="2.7"/>
<text text-anchor="end" font-size="26.7" transform="translate(117.5 2400.05) scale(0.93 1)">0.0</text>
<line x1="126.7" y1="2281.12" x2="135.2" y2="2281.12" stroke="#262626" stroke-width="2.7"/>
<text text-anchor="end" font-size="26.7" transform="translate(117.5 2290.57) scale(0.93 1)">0.2</text>
<line x1="126.7" y1="2171.64" x2="135.2" y2="2171.64" stroke="#262626" stroke-width="2.7"/>
<text text-anchor="end" font-size="26.7" transform="translate(117.5 2181.09) scale(0.93 1)">0.4</text>
<line x1="126.7" y1="2062.16" x2="135.2" y2="2062.16" stroke="#262626" stroke-width="2.7"/>
<text text-anchor="end" font-size="26.7" transform="translate(117.5 2071.61) scale(0.93 1)">0.6</text>
<line x1="126.7" y1="1952.68" x2="135.2" y2="1952.68" stroke="#262626" stroke-width="2.7"/>
<text text-anchor="end" font-size="26.7" transform="translate(117.5 1962.13) scale(0.93 1)">0.8</text>
<line x1="126.7" y1="1843.2" x2="135.2" y2="1843.2" stroke="#262626" stroke-width="2.7"/>
<text text-anchor="end" font-size="26.7" transform="translate(117.5 1852.65) scale(0.93 1)">1.0</text>
<line x1="186.79" y1="2390.6" x2="186.79" y2="2399.6" stroke="#262626" stroke-width="2.7"/>
<text text-anchor="end" font-size="25.5" transform="translate(193.49 2453) rotate(-90) scale(0.972 1)">expected</text>
<line x1="289.98" y1="2390.6" x2="289.98" y2="2399.6" stroke="#262626" stroke-width="2.7"/>
<text text-anchor="end" font-size="25.5" transform="translate(296.68 2453) rotate(-90) scale(0.972 1)">observed</text>
<line x1="393.16" y1="2390.6" x2="393.16" y2="2399.6" stroke="#262626" stroke-width="2.7"/>
<text text-anchor="end" font-size="25.5" transform="translate(399.86 2453) rotate(-90) scale(0.972 1)">expected</text>
<line x1="496.34" y1="2390.6" x2="496.34" y2="2399.6" stroke="#262626" stroke-width="2.7"/>
<text text-anchor="end" font-size="25.5" transform="translate(503.04 2453) rotate(-90) scale(0.972 1)">observed</text>
<line x1="599.53" y1="2390.6" x2="599.53" y2="2399.6" stroke="#262626" stroke-width="2.7"/>
<text text-anchor="end" font-size="25.5" transform="translate(606.23 2453) rotate(-90) scale(0.972 1)">expected</text>
<line x1="702.71" y1="2390.6" x2="702.71" y2="2399.6" stroke="#262626" stroke-width="2.7"/>
<text text-anchor="end" font-size="25.5" transform="translate(709.41 2453) rotate(-90) scale(0.972 1)">observed</text>
<text text-anchor="start" font-size="31.4" transform="translate(230.4 2420.5) scale(0.945 1)">T1</text>
<line x1="185.7" y1="2428.4" x2="308.7" y2="2428.4" stroke="#262626" stroke-width="1.6"/>
<text text-anchor="start" font-size="31.4" transform="translate(434.2 2424.2) scale(0.945 1)">T2</text>
<line x1="389.7" y1="2432.2" x2="512.2" y2="2432.2" stroke="#262626" stroke-width="1.6"/>
<text text-anchor="start" font-size="31.4" transform="translate(643.1 2424.2) scale(0.945 1)">T3</text>
<line x1="598.9" y1="2432.2" x2="721.1" y2="2432.2" stroke="#262626" stroke-width="1.6"/>
<text text-anchor="middle" font-size="30.8" transform="translate(444.75 1751.6) scale(0.961 1)" textLength="134.96" lengthAdjust="spacing">N - 50 µM</text>
<text text-anchor="middle" font-size="25.5" transform="translate(68.6 2079.3) rotate(-90) scale(0.972 1)">relative abundance</text>
</g>
<g>
<rect x="860.59" y="2290.95" width="47.6" height="99.65" fill="#8eaad5"/>
<rect x="860.59" y="2019.55" width="47.6" height="266.5" fill="#f7b77f"/>
<rect x="860.59" y="1838.05" width="47.6" height="176.6" fill="#98c787"/>
<rect x="963.77" y="2270.15" width="47.6" height="120.45" fill="#2878b4"/>
<rect x="963.77" y="2040.25" width="47.6" height="225" fill="#ee8124"/>
<rect x="963.77" y="1838.05" width="47.6" height="197.3" fill="#2da23c"/>
<rect x="1066.96" y="2306.95" width="47.6" height="83.65" fill="#8eaad5"/>
<rect x="1066.96" y="2041.65" width="47.6" height="260.4" fill="#f7b77f"/>
<rect x="1066.96" y="1838.05" width="47.6" height="198.7" fill="#98c787"/>
<rect x="1170.14" y="2277.75" width="47.6" height="112.85" fill="#2878b4"/>
<rect x="1170.14" y="2070.45" width="47.6" height="202.4" fill="#ee8124"/>
<rect x="1170.14" y="1838.05" width="47.6" height="227.5" fill="#2da23c"/>
<rect x="1273.33" y="2310.75" width="47.6" height="79.85" fill="#8eaad5"/>
<rect x="1273.33" y="2047.85" width="47.6" height="258" fill="#f7b77f"/>
<rect x="1273.33" y="1838.05" width="47.6" height="204.9" fill="#98c787"/>
<rect x="1376.51" y="2278.95" width="47.6" height="111.65" fill="#2878b4"/>
<rect x="1376.51" y="2079.55" width="47.6" height="194.5" fill="#ee8124"/>
<rect x="1376.51" y="1838.05" width="47.6" height="236.6" fill="#2da23c"/>
<rect x="984.77" y="2243.6" width="5.6" height="48.2" fill="#262626"/>
<rect x="984.77" y="2005.4" width="5.6" height="64.8" fill="#262626"/>
<rect x="984.77" y="1797.4" width="5.6" height="76.4" fill="#262626"/>
<rect x="1191.14" y="2257.3" width="5.6" height="36" fill="#262626"/>
<rect x="1191.14" y="2033.5" width="5.6" height="69" fill="#262626"/>
<rect x="1191.14" y="1797.8" width="5.6" height="75.6" fill="#262626"/>
<rect x="1397.51" y="2256" width="5.6" height="41" fill="#262626"/>
<rect x="1397.51" y="2043.2" width="5.6" height="67.8" fill="#262626"/>
<rect x="1397.51" y="1798.4" width="5.6" height="74.4" fill="#262626"/>
<rect x="1239.8" y="1780.5" width="199.6" height="148.6" rx="5.2" fill="#fff" fill-opacity="0.8" stroke="#cccccc" stroke-width="2.3"/>
<text text-anchor="middle" font-size="25.5" transform="translate(1339.9 1807.8) scale(0.972 1)">label state</text>
<rect x="1251.6" y="1828" width="46" height="13.3" fill="#2878b4" stroke="#fff" stroke-width="2.2" paint-order="stroke"/>
<text text-anchor="start" font-size="25.5" transform="translate(1319.6 1843.3) scale(0.972 1)">producer</text>
<rect x="1251.6" y="1863.2" width="46" height="13.3" fill="#ee8124" stroke="#fff" stroke-width="2.2" paint-order="stroke"/>
<text text-anchor="start" font-size="25.5" transform="translate(1319.6 1878.35) scale(0.972 1)">mixed</text>
<rect x="1251.6" y="1898.4" width="46" height="13.3" fill="#2da23c" stroke="#fff" stroke-width="2.2" paint-order="stroke"/>
<text text-anchor="start" font-size="25.5" transform="translate(1319.6 1913.4) scale(0.972 1)">consumer</text>
<rect x="832.8" y="1768" width="619.1" height="622.6" fill="none" stroke="#262626" stroke-width="2.9"/>
<line x1="824.3" y1="2390.6" x2="832.8" y2="2390.6" stroke="#262626" stroke-width="2.7"/>
<text text-anchor="end" font-size="26.7" transform="translate(815.1 2400.05) scale(0.93 1)">0.0</text>
<line x1="824.3" y1="2279.6" x2="832.8" y2="2279.6" stroke="#262626" stroke-width="2.7"/>
<text text-anchor="end" font-size="26.7" transform="translate(815.1 2289.05) scale(0.93 1)">0.2</text>
<line x1="824.3" y1="2168.6" x2="832.8" y2="2168.6" stroke="#262626" stroke-width="2.7"/>
<text text-anchor="end" font-size="26.7" transform="translate(815.1 2178.05) scale(0.93 1)">0.4</text>
<line x1="824.3" y1="2057.6" x2="832.8" y2="2057.6" stroke="#262626" stroke-width="2.7"/>
<text text-anchor="end" font-size="26.7" transform="translate(815.1 2067.05) scale(0.93 1)">0.6</text>
<line x1="824.3" y1="1946.6" x2="832.8" y2="1946.6" stroke="#262626" stroke-width="2.7"/>
<text text-anchor="end" font-size="26.7" transform="translate(815.1 1956.05) scale(0.93 1)">0.8</text>
<line x1="824.3" y1="1835.6" x2="832.8" y2="1835.6" stroke="#262626" stroke-width="2.7"/>
<text text-anchor="end" font-size="26.7" transform="translate(815.1 1845.05) scale(0.93 1)">1.0</text>
<line x1="884.39" y1="2390.6" x2="884.39" y2="2399.6" stroke="#262626" stroke-width="2.7"/>
<text text-anchor="end" font-size="25.5" transform="translate(891.09 2453) rotate(-90) scale(0.972 1)">expected</text>
<line x1="987.57" y1="2390.6" x2="987.57" y2="2399.6" stroke="#262626" stroke-width="2.7"/>
<text text-anchor="end" font-size="25.5" transform="translate(994.27 2453) rotate(-90) scale(0.972 1)">observed</text>
<line x1="1090.76" y1="2390.6" x2="1090.76" y2="2399.6" stroke="#262626" stroke-width="2.7"/>
<text text-anchor="end" font-size="25.5" transform="translate(1097.46 2453) rotate(-90) scale(0.972 1)">expected</text>
<line x1="1193.94" y1="2390.6" x2="1193.94" y2="2399.6" stroke="#262626" stroke-width="2.7"/>
<text text-anchor="end" font-size="25.5" transform="translate(1200.64 2453) rotate(-90) scale(0.972 1)">observed</text>
<line x1="1297.12" y1="2390.6" x2="1297.12" y2="2399.6" stroke="#262626" stroke-width="2.7"/>
<text text-anchor="end" font-size="25.5" transform="translate(1303.83 2453) rotate(-90) scale(0.972 1)">expected</text>
<line x1="1400.31" y1="2390.6" x2="1400.31" y2="2399.6" stroke="#262626" stroke-width="2.7"/>
<text text-anchor="end" font-size="25.5" transform="translate(1407.01 2453) rotate(-90) scale(0.972 1)">observed</text>
<text text-anchor="start" font-size="31.4" transform="translate(922.2 2422.3) scale(0.945 1)">T1</text>
<line x1="878.4" y1="2430.3" x2="1000.9" y2="2430.3" stroke="#262626" stroke-width="1.6"/>
<text text-anchor="start" font-size="31.4" transform="translate(1126.6 2426) scale(0.945 1)">T2</text>
<line x1="1081.8" y1="2434.2" x2="1204.6" y2="2434.2" stroke="#262626" stroke-width="1.6"/>
<text text-anchor="start" font-size="31.4" transform="translate(1336.2 2426) scale(0.945 1)">T3</text>
<line x1="1291.3" y1="2434.2" x2="1412.6" y2="2434.2" stroke="#262626" stroke-width="1.6"/>
<text text-anchor="middle" font-size="30.8" transform="translate(1142.35 1751.6) scale(0.961 1)" textLength="156.3" lengthAdjust="spacing">N - 200 µM</text>
</g>
<g>
<rect x="1557.99" y="2154.15" width="47.6" height="236.45" fill="#8eaad5"/>
<rect x="1557.99" y="1895.35" width="47.6" height="253.9" fill="#f7b77f"/>
<rect x="1557.99" y="1825.25" width="47.6" height="65.2" fill="#98c787"/>
<rect x="1661.18" y="2136.35" width="47.6" height="254.25" fill="#2878b4"/>
<rect x="1661.18" y="1912.65" width="47.6" height="218.8" fill="#ee8124"/>
<rect x="1661.18" y="1825.25" width="47.6" height="82.5" fill="#2da23c"/>
<rect x="1764.36" y="2219.65" width="47.6" height="170.95" fill="#8eaad5"/>
<rect x="1764.36" y="1939.05" width="47.6" height="275.7" fill="#f7b77f"/>
<rect x="1764.36" y="1825.25" width="47.6" height="108.9" fill="#98c787"/>
<rect x="1867.54" y="2196.15" width="47.6" height="194.45" fill="#2878b4"/>
<rect x="1867.54" y="1963.05" width="47.6" height="228.2" fill="#ee8124"/>
<rect x="1867.54" y="1825.25" width="47.6" height="132.9" fill="#2da23c"/>
<rect x="1970.73" y="2231.75" width="47.6" height="158.85" fill="#8eaad5"/>
<rect x="1970.73" y="1949.35" width="47.6" height="277.5" fill="#f7b77f"/>
<rect x="1970.73" y="1825.25" width="47.6" height="119.2" fill="#98c787"/>
<rect x="2073.91" y="2198.15" width="47.6" height="192.45" fill="#2878b4"/>
<rect x="2073.91" y="1983.85" width="47.6" height="209.4" fill="#ee8124"/>
<rect x="2073.91" y="1825.25" width="47.6" height="153.7" fill="#2da23c"/>
<rect x="1682.18" y="2088.7" width="5.6" height="90.4" fill="#262626"/>
<rect x="1682.18" y="1868.2" width="5.6" height="84" fill="#262626"/>
<rect x="1682.18" y="1797.8" width="5.6" height="50" fill="#262626"/>
<rect x="1888.54" y="2150.2" width="5.6" height="87" fill="#262626"/>
<rect x="1888.54" y="1917.8" width="5.6" height="85.6" fill="#262626"/>
<rect x="1888.54" y="1801.5" width="5.6" height="42.6" fill="#262626"/>
<rect x="2094.91" y="2155.6" width="5.6" height="80.2" fill="#262626"/>
<rect x="2094.91" y="1942.4" width="5.6" height="78" fill="#262626"/>
<rect x="2094.91" y="1798.1" width="5.6" height="49.4" fill="#262626"/>
<rect x="1937.2" y="1780.5" width="199.6" height="148.6" rx="5.2" fill="#fff" fill-opacity="0.8" stroke="#cccccc" stroke-width="2.3"/>
<text text-anchor="middle" font-size="25.5" transform="translate(2037.3 1807.8) scale(0.972 1)">label state</text>
<rect x="1949" y="1828" width="46" height="13.3" fill="#2878b4" stroke="#fff" stroke-width="2.2" paint-order="stroke"/>
<text text-anchor="start" font-size="25.5" transform="translate(2017 1843.3) scale(0.972 1)">producer</text>
<rect x="1949" y="1863.2" width="46" height="13.3" fill="#ee8124" stroke="#fff" stroke-width="2.2" paint-order="stroke"/>
<text text-anchor="start" font-size="25.5" transform="translate(2017 1878.35) scale(0.972 1)">mixed</text>
<rect x="1949" y="1898.4" width="46" height="13.3" fill="#2da23c" stroke="#fff" stroke-width="2.2" paint-order="stroke"/>
<text text-anchor="start" font-size="25.5" transform="translate(2017 1913.4) scale(0.972 1)">consumer</text>
<rect x="1530.2" y="1768" width="619.1" height="622.6" fill="none" stroke="#262626" stroke-width="2.9"/>
<line x1="1521.7" y1="2390.6" x2="1530.2" y2="2390.6" stroke="#262626" stroke-width="2.7"/>
<text text-anchor="end" font-size="26.7" transform="translate(1512.5 2400.05) scale(0.93 1)">0.0</text>
<line x1="1521.7" y1="2277.04" x2="1530.2" y2="2277.04" stroke="#262626" stroke-width="2.7"/>
<text text-anchor="end" font-size="26.7" transform="translate(1512.5 2286.49) scale(0.93 1)">0.2</text>
<line x1="1521.7" y1="2163.48" x2="1530.2" y2="2163.48" stroke="#262626" stroke-width="2.7"/>
<text text-anchor="end" font-size="26.7" transform="translate(1512.5 2172.93) scale(0.93 1)">0.4</text>
<line x1="1521.7" y1="2049.92" x2="1530.2" y2="2049.92" stroke="#262626" stroke-width="2.7"/>
<text text-anchor="end" font-size="26.7" transform="translate(1512.5 2059.37) scale(0.93 1)">0.6</text>
<line x1="1521.7" y1="1936.36" x2="1530.2" y2="1936.36" stroke="#262626" stroke-width="2.7"/>
<text text-anchor="end" font-size="26.7" transform="translate(1512.5 1945.81) scale(0.93 1)">0.8</text>
<line x1="1521.7" y1="1822.8" x2="1530.2" y2="1822.8" stroke="#262626" stroke-width="2.7"/>
<text text-anchor="end" font-size="26.7" transform="translate(1512.5 1832.25) scale(0.93 1)">1.0</text>
<line x1="1581.79" y1="2390.6" x2="1581.79" y2="2399.6" stroke="#262626" stroke-width="2.7"/>
<text text-anchor="end" font-size="25.5" transform="translate(1588.49 2453) rotate(-90) scale(0.972 1)">expected</text>
<line x1="1684.98" y1="2390.6" x2="1684.98" y2="2399.6" stroke="#262626" stroke-width="2.7"/>
<text text-anchor="end" font-size="25.5" transform="translate(1691.68 2453) rotate(-90) scale(0.972 1)">observed</text>
<line x1="1788.16" y1="2390.6" x2="1788.16" y2="2399.6" stroke="#262626" stroke-width="2.7"/>
<text text-anchor="end" font-size="25.5" transform="translate(1794.86 2453) rotate(-90) scale(0.972 1)">expected</text>
<line x1="1891.34" y1="2390.6" x2="1891.34" y2="2399.6" stroke="#262626" stroke-width="2.7"/>
<text text-anchor="end" font-size="25.5" transform="translate(1898.04 2453) rotate(-90) scale(0.972 1)">observed</text>
<line x1="1994.53" y1="2390.6" x2="1994.53" y2="2399.6" stroke="#262626" stroke-width="2.7"/>
<text text-anchor="end" font-size="25.5" transform="translate(2001.23 2453) rotate(-90) scale(0.972 1)">expected</text>
<line x1="2097.71" y1="2390.6" x2="2097.71" y2="2399.6" stroke="#262626" stroke-width="2.7"/>
<text text-anchor="end" font-size="25.5" transform="translate(2104.41 2453) rotate(-90) scale(0.972 1)">observed</text>
<text text-anchor="start" font-size="31.4" transform="translate(1616.9 2424.6) scale(0.945 1)">T1</text>
<line x1="1572.6" y1="2433" x2="1694.9" y2="2433" stroke="#262626" stroke-width="1.6"/>
<text text-anchor="start" font-size="31.4" transform="translate(1821.3 2428.8) scale(0.945 1)">T2</text>
<line x1="1776.5" y1="2436.9" x2="1899.2" y2="2436.9" stroke="#262626" stroke-width="1.6"/>
<text text-anchor="start" font-size="31.4" transform="translate(2030.4 2428.8) scale(0.945 1)">T3</text>
<line x1="1985.4" y1="2436.9" x2="2107.5" y2="2436.9" stroke="#262626" stroke-width="1.6"/>
<text text-anchor="middle" font-size="30.8" transform="translate(1839.75 1751.6) scale(0.961 1)" textLength="173.36" lengthAdjust="spacing">N - 1000 µM</text>
</g>
<text class="pl" text-anchor="start" font-size="54.8" transform="translate(2 49.7) scale(1.069 1)">A</text>
<text class="pl" text-anchor="start" font-size="54.8" transform="translate(4.3 880.7) scale(0.967 1)">B</text>
<text class="pl" text-anchor="start" font-size="54.8" transform="translate(3.6 1714.6) scale(0.981 1)">C</text>
</svg>
</body>
</html>
